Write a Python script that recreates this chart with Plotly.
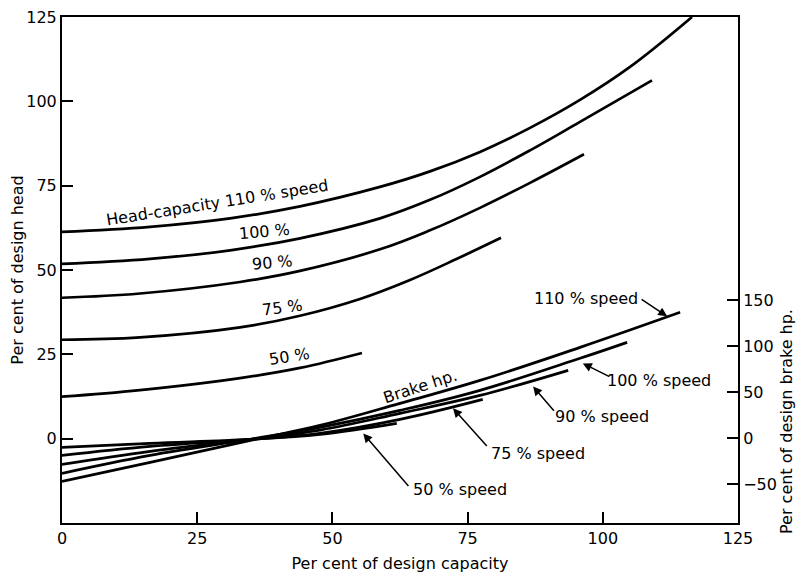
import plotly.graph_objects as go

# head-capacity curves (left axis, per cent of design head)
head_110_x = [0, 16.27, 31.07, 44.01, 58.80, 68.05, 77.29, 86.54, 95.78, 105.03, 116.49]
head_110_y = [61.32, 62.80, 65.31, 68.87, 74.64, 79.24, 85.01, 92.12, 100.41, 110.19, 125.0]
head_100_x = [0, 16.27, 31.07, 44.01, 58.80, 68.05, 77.29, 86.54, 95.78, 109.10]
head_100_y = [51.84, 53.32, 55.84, 59.39, 65.31, 70.79, 77.61, 85.46, 93.90, 106.19]
head_90_x = [0, 14.42, 32.91, 44.01, 58.80, 68.05, 77.29, 86.54, 96.52]
head_90_y = [41.77, 43.04, 46.45, 49.73, 56.13, 61.76, 68.42, 75.83, 84.30]
head_75_x = [0, 14.42, 32.91, 44.01, 55.10, 64.35, 73.04, 81.18]
head_75_y = [29.33, 30.01, 32.97, 36.43, 41.41, 47.04, 53.32, 59.54]
head_50_x = [0, 14.42, 32.91, 44.01, 55.47]
head_50_y = [12.44, 14.40, 17.95, 20.97, 25.39]

# brake hp curves (right axis, per cent of design brake hp)
bhp_110_x = [0, 16.3, 35.7, 47.7, 62.5, 77.3, 95.8, 114.3]
bhp_110_y = [-46.7, -26.1, -1.1, 14.1, 38.0, 63.0, 98.9, 137.0]
bhp_100_x = [0, 16.3, 34.8, 47.7, 62.5, 77.3, 95.8, 104.5]
bhp_100_y = [-38.0, -18.5, -1.0, 12.0, 30.4, 52.2, 87.0, 104.3]
bhp_90_x = [0, 16.3, 34.8, 47.7, 62.5, 77.3, 93.6]
bhp_90_y = [-28.3, -14.1, -1.1, 9.0, 27.2, 46.7, 73.9]
bhp_75_x = [0, 16.3, 34.8, 47.7, 62.5, 77.8]
bhp_75_y = [-18.5, -8.7, -1.1, 5.5, 20.7, 42.4]
bhp_50_x = [0, 16.3, 34.8, 47.7, 61.9]
bhp_50_y = [-9.8, -5.4, -1.1, 4.3, 16.3]

x_ticks = [0, 25, 50, 75, 100, 125]
head_ticks = [0, 25, 50, 75, 100, 125]
bhp_ticks = [-50, 0, 50, 100, 150]

FONT = 'DejaVu Sans'
LINE = dict(color='black', width=2.7, shape='spline', smoothing=1.1)

fig = go.Figure()
for xs, ys in [(head_110_x, head_110_y), (head_100_x, head_100_y), (head_90_x, head_90_y),
               (head_75_x, head_75_y), (head_50_x, head_50_y)]:
    fig.add_trace(go.Scatter(x=xs, y=ys, mode='lines', line=LINE, showlegend=False))
for xs, ys in [(bhp_110_x, bhp_110_y), (bhp_100_x, bhp_100_y), (bhp_90_x, bhp_90_y),
               (bhp_75_x, bhp_75_y), (bhp_50_x, bhp_50_y)]:
    fig.add_trace(go.Scatter(x=xs, y=ys, yaxis='y2', mode='lines', line=LINE, showlegend=False))

# curve labels
labels = [
    ('Head-capacity 110 % speed', 28.8, 69.9, -9, 'y'),
    ('100 %', 37.5, 61.3, -5, 'y'),
    ('90 %', 39.0, 52.1, -5, 'y'),
    ('75 %', 40.7, 38.8, -7, 'y'),
    ('50 %', 42.0, 24.3, -9, 'y'),
    ('Brake hp.', 66.2, 56.5, -18, 'y2'),
    ('110 % speed', 96.9, 152.2, 0, 'y2'),
    ('100 % speed', 110.4, 63.0, 0, 'y2'),
    ('90 % speed', 99.8, 23.9, 0, 'y2'),
    ('75 % speed', 88.0, -16.3, 0, 'y2'),
    ('50 % speed', 73.6, -55.4, 0, 'y2'),
]
for text, x, y, ang, yref in labels:
    fig.add_annotation(text=text, x=x, y=y, xref='x', yref=yref, textangle=ang,
                       showarrow=False, font=dict(family=FONT, size=16, color='black'))

# leader arrows (tail -> head)
arrows = [
    (106.9, 152.2, 111.9, 132.6),
    (101.5, 66.3, 96.3, 81.5),
    (91.2, 28.3, 87.1, 56.5),
    (78.8, -9.8, 72.3, 32.6),
    (64.3, -53.3, 55.7, 5.4),
]
for ax, ay, hx, hy in arrows:
    fig.add_annotation(text='', x=hx, y=hy, ax=ax, ay=ay, xref='x', yref='y2',
                       axref='x', ayref='y2', showarrow=True, arrowhead=2,
                       arrowsize=1.2, arrowwidth=1.5, arrowcolor='black')

# right axis title
fig.add_annotation(text='Per cent of design brake hp.', xref='x domain', yref='y domain',
                   x=(786 - 62) / 676, y=(523 - 422) / 506, xanchor='center', yanchor='middle',
                   showarrow=False, textangle=-90,
                   font=dict(family=FONT, size=16, color='black'))

axis_common = dict(showline=True, linecolor='black', linewidth=2, ticks='inside',
                   ticklen=11, tickwidth=1.5, tickcolor='black', showgrid=False,
                   zeroline=False, automargin=False, ticklabeloverflow='allow',
                   tickfont=dict(family=FONT, size=16, color='black'))

# page body has an 8px margin, so margins are trimmed to keep the frame in place
fig.update_layout(
    width=796, height=565,
    margin=dict(l=54, r=66, t=9, b=50),
    plot_bgcolor='white', paper_bgcolor='white',
    xaxis=dict(range=[0, 125], tickvals=x_ticks, mirror=True,
               title=dict(text='Per cent of design capacity', standoff=14,
                          font=dict(family=FONT, size=16, color='black')),
               **axis_common),
    yaxis=dict(range=[-25, 125], tickvals=head_ticks,
               title=dict(text='Per cent of design head', standoff=8,
                          font=dict(family=FONT, size=16, color='black')),
               **axis_common),
    yaxis2=dict(range=[-92, 458], tickvals=bhp_ticks, overlaying='y', side='right',
                **axis_common),
)

fig.write_html("out.html")
